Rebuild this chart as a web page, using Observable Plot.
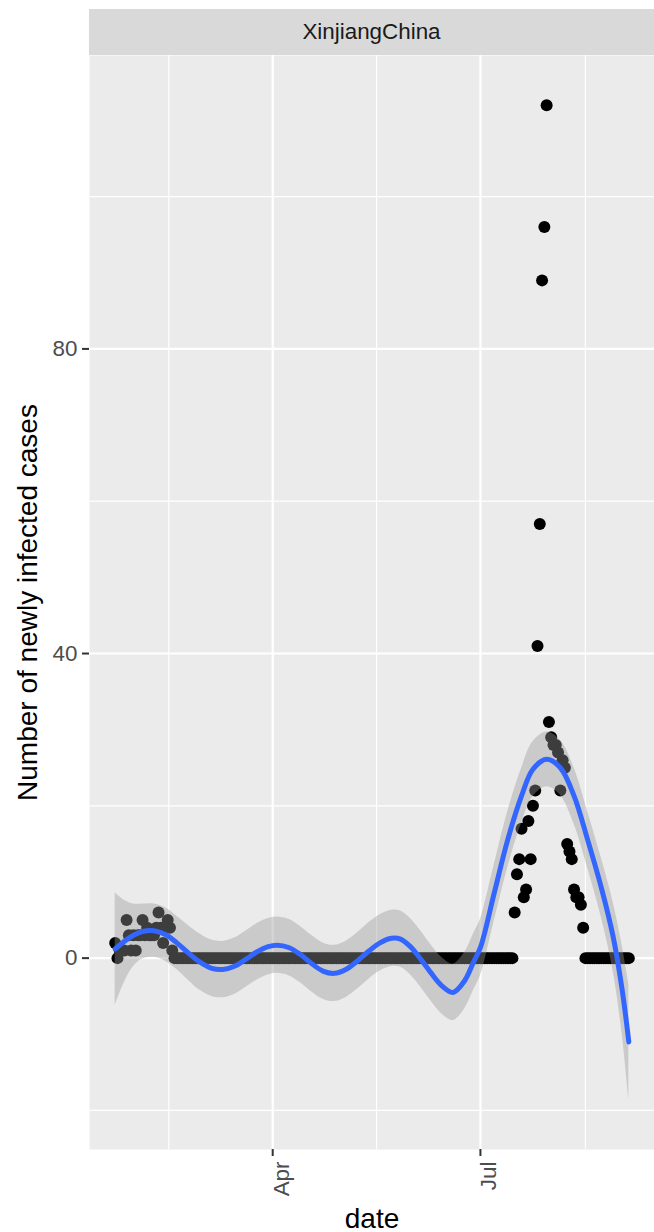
<!DOCTYPE html>
<html><head><meta charset="utf-8">
<script src="https://cdn.jsdelivr.net/npm/d3@7"></script>
<script src="https://cdn.jsdelivr.net/npm/@observablehq/plot@0.6"></script>
<style>
html,body{margin:0;padding:0;background:#fff;}
body{width:654px;height:1232px;overflow:hidden;font-family:"Liberation Sans",Arial,Helvetica,sans-serif;}
#strip{margin-left:89px;margin-top:9px;width:565px;height:46px;background:#D9D9D9;color:#1A1A1A;font-size:22.4px;display:flex;align-items:center;justify-content:center;}
#chart svg{display:block;}
</style></head><body>
<div id="strip"></div><div id="chart"></div>
<script>
// ---- data ----
const facetTitle = "XinjiangChina";
const xTitle = "date";
const yTitle = "Number of newly infected cases";
const startDate = [2020, 0, 23]; // first observation: 2020-01-23, one value per day
const newCases = [
  2,0,1,1,1,5,3,1,3,1,3,3,5,3,4,3,3,3,4,6,4,2,4,5,4,1,
  0,0,0,0,0,0,0,0,0,0,0,0,0,0,0,0,0,0,0,0,
  0,0,0,0,0,0,0,0,0,0,0,0,0,0,0,0,0,0,0,0,
  0,0,0,0,0,0,0,0,0,0,0,0,0,0,0,0,0,0,0,0,
  0,0,0,0,0,0,0,0,0,0,0,0,0,0,0,0,0,0,0,0,
  0,0,0,0,0,0,0,0,0,0,0,0,0,0,0,0,0,0,0,0,
  0,0,0,0,0,0,0,0,0,0,0,0,0,0,0,0,0,0,0,0,
  0,0,0,0,0,0,0,0,0,0,0,0,0,0,0,0,0,0,0,0,
  0,0,0,0,0,0,0,0,0,
  6,11,13,17,8,9,18,13,20,22,41,57,89,96,112,31,29,28,28,27,22,26,25,15,14,13,9,8,8,7,4,
  0,0,0,0,0,0,0,0,0,0,0,0,0,0,0,0,0,0,0,0
];
// smoothed trend: day offset from start, fit, lower, upper
const smoothDay  = [0,4,8,12,17,22,27,32,37,42,47,52,57,62,67,71,76,81,86,91,96,101,106,111,116,121,125,129,133,138,143,148,153,157,160,166,172,178,183,189,195,201,207,213,218,222,225];
const smoothFit  = [1.2,2.2,3.0,3.5,3.6,3.1,2.0,0.7,-0.5,-1.3,-1.5,-1.1,-0.2,0.8,1.5,1.7,1.4,0.5,-0.7,-1.7,-2.0,-1.5,-0.4,0.9,2.0,2.6,2.5,1.6,0.2,-1.8,-3.6,-4.5,-3.0,-0.5,1.4,8.5,15.6,21.3,24.8,26.1,25.0,21.3,15.5,9.2,3.0,-4.0,-11.0];
const smoothLow  = [-6.2,-3.2,-1.1,-0.1,0.1,-0.4,-1.5,-2.9,-4.2,-5.0,-5.2,-4.8,-3.9,-2.9,-2.2,-2.0,-2.3,-3.2,-4.4,-5.4,-5.7,-5.2,-4.1,-2.8,-1.7,-1.1,-1.2,-2.1,-3.5,-5.5,-7.3,-8.2,-6.7,-4.2,-2.3,4.8,11.9,17.7,21.2,22.5,21.4,17.6,11.8,5.3,-1.5,-9.8,-18.6];
const smoothHigh = [8.6,7.6,7.1,7.1,7.1,6.6,5.5,4.3,3.2,2.4,2.2,2.6,3.5,4.5,5.2,5.4,5.1,4.2,3.0,2.0,1.7,2.2,3.3,4.6,5.7,6.3,6.2,5.3,3.9,1.9,0.1,-0.8,0.7,3.2,5.1,12.2,19.3,24.9,28.4,29.7,28.6,25.0,19.2,13.1,7.5,1.8,-3.4];
const yMajor = [0, 40, 80];
const yMinor = [-20, 20, 60, 100];
const xMajorTicks = ["2020-04-01", "2020-07-01"];
const xMinorTicks = ["2020-02-15T12:00", "2020-05-16T12:00", "2020-08-16"];

// ---- build tables ----
const dayDate = d => new Date(Date.UTC(startDate[0], startDate[1], startDate[2] + d));
const cases = newCases.map((v, i) => ({date: dayDate(i), value: v}));
const smooth = smoothDay.map((d, i) => ({date: dayDate(d), fit: smoothFit[i], lo: smoothLow[i], hi: smoothHigh[i]}));
const xMajor = xMajorTicks.map(s => new Date(s + "T00:00Z"));
const xMinor = xMinorTicks.map(s => new Date(s.length > 10 ? s + "Z" : s + "T00:00Z"));

// ggplot-like 5% expansion
const t0 = +cases[0].date, t1 = +cases[cases.length - 1].date;
const xDomain = [new Date(t0 - 0.05 * (t1 - t0)), new Date(t1 + 0.05 * (t1 - t0))];
const yMin = Math.min(d3.min(newCases), d3.min(smoothLow));
const yMax = Math.max(d3.max(newCases), d3.max(smoothHigh));
const yDomain = [yMin - 0.05 * (yMax - yMin), yMax + 0.05 * (yMax - yMin)];

document.getElementById("strip").textContent = facetTitle;

const chart = Plot.plot({
  width: 654,
  height: 1177,
  marginTop: 0,
  marginLeft: 89,
  marginRight: 0,
  marginBottom: 83,
  style: {fontFamily: '"Liberation Sans", Arial, Helvetica, sans-serif', background: "transparent", overflow: "visible"},
  x: {type: "utc", domain: xDomain},
  y: {domain: yDomain},
  marks: [
    Plot.frame({fill: "#EBEBEB", stroke: null}),
    Plot.gridY(yMinor, {stroke: "white", strokeOpacity: 1, strokeWidth: 1.2}),
    Plot.gridX(xMinor, {stroke: "white", strokeOpacity: 1, strokeWidth: 1.2}),
    Plot.gridY(yMajor, {stroke: "white", strokeOpacity: 1, strokeWidth: 2.2}),
    Plot.gridX(xMajor, {stroke: "white", strokeOpacity: 1, strokeWidth: 2.2}),
    Plot.dot(cases, {x: "date", y: "value", r: 6, fill: "black", stroke: null}),
    Plot.areaY(smooth, {x: "date", y1: "lo", y2: "hi", fill: "#999999", fillOpacity: 0.4, curve: "catmull-rom"}),
    Plot.line(smooth, {x: "date", y: "fit", stroke: "#3366FF", strokeWidth: 5, curve: "catmull-rom"}),
    Plot.axisY(yMajor, {tickSize: 7, tickPadding: 5, fontSize: 22.4, stroke: "#333333", fill: "#4D4D4D", strokeWidth: 2, label: null}),
    Plot.axisX(xMajor, {tickSize: 7, tickPadding: 5, tickRotate: -90, lineAnchor: "top", fontSize: 22.4, stroke: "#333333", fill: "#4D4D4D", strokeWidth: 2, tickFormat: d3.utcFormat("%b"), label: null}),
    Plot.text([yTitle], {text: d => d, frameAnchor: "left", textAnchor: "middle", lineAnchor: "middle", dx: -61, rotate: -90, fontSize: 28, fill: "black"}),
    Plot.text([xTitle], {text: d => d, frameAnchor: "bottom", lineAnchor: "bottom", dy: 78, fontSize: 28, fill: "black"})
  ]
});
document.getElementById("chart").appendChild(chart);
</script></body></html>
